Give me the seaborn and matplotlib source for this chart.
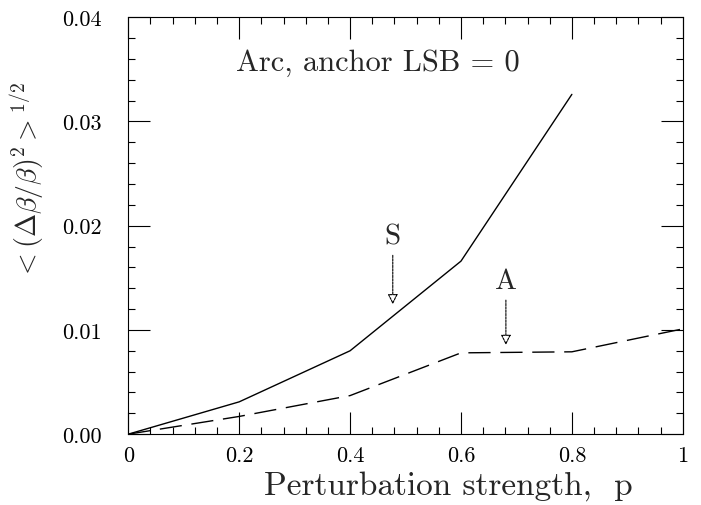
import numpy as np
import pandas as pd
import matplotlib
matplotlib.use('Agg')
import matplotlib.pyplot as plt
import seaborn as sns
from matplotlib.ticker import MultipleLocator

# data
p_s = [0.0, 0.2, 0.4, 0.6, 0.8]
rms_s = [0.0, 0.0031, 0.0080, 0.0166, 0.0326]
p_a = [0.0, 0.2, 0.4, 0.6, 0.8, 1.0]
rms_a = [0.0, 0.0017, 0.0037, 0.0078, 0.0079, 0.0101]

x_ticks = [0, 0.2, 0.4, 0.6, 0.8, 1]
x_labels = ['0', '0.2', '0.4', '0.6', '0.8', '1']
y_ticks = [0.0, 0.01, 0.02, 0.03, 0.04]
y_labels = ['0.00', '0.01', '0.02', '0.03', '0.04']

sns.set_style('ticks')
plt.rcParams['font.family'] = ['cmr10', 'DejaVu Serif']
plt.rcParams['mathtext.fontset'] = 'cm'
plt.rcParams['axes.formatter.use_mathtext'] = True

df_s = pd.DataFrame({'p': p_s, 'rms': rms_s})
df_a = pd.DataFrame({'p': p_a, 'rms': rms_a})

fig = plt.figure(figsize=(7.01, 5.06), dpi=100)
ax = fig.add_axes([0.183, 0.140, 0.791, 0.824])

sns.lineplot(data=df_s, x='p', y='rms', ax=ax, color='black', lw=1.0)
sns.lineplot(data=df_a, x='p', y='rms', ax=ax, color='black', lw=1.0,
             dashes=False)
ax.lines[-1].set_dashes([16, 7])

ax.set_xlim(0, 1)
ax.set_ylim(0, 0.04)
ax.set_xticks(x_ticks)
ax.set_xticklabels(x_labels)
ax.set_yticks(y_ticks)
ax.set_yticklabels(y_labels)
ax.xaxis.set_minor_locator(MultipleLocator(0.04))
ax.yaxis.set_minor_locator(MultipleLocator(0.002))
ax.tick_params(which='both', direction='in', top=True, right=True,
               width=0.8, labelsize=16, colors='black')
ax.tick_params(which='major', length=16)
ax.tick_params(which='minor', length=4.7)
ax.tick_params(axis='x', which='major', pad=8)
ax.tick_params(axis='y', which='major', pad=19)
for s in ax.spines.values():
    s.set_linewidth(0.8)
    s.set_color('black')

ax.set_xlabel('Perturbation strength,  p', fontsize=24)
ax.xaxis.set_label_coords(0.578, -0.085)
ax.set_ylabel(r'$<(\Delta\beta/\beta)^2>^{1/2}$', fontsize=20)
ax.yaxis.set_label_coords(-0.146, 0.61)

ax.text(0.45, 0.0357, 'Arc, anchor LSB = 0', fontsize=22, ha='center',
        va='center')

# labels with open-head arrows
arrow = dict(arrowstyle='-|>', color='black', lw=0.8, ls=(0, (2, 1)),
             fc='white', mutation_scale=15)
ax.annotate('S', xy=(0.477, 0.0122), xytext=(0.477, 0.0190), fontsize=21,
            ha='center', va='center', arrowprops=arrow)
ax.annotate('A', xy=(0.681, 0.0083), xytext=(0.681, 0.0147), fontsize=21,
            ha='center', va='center', arrowprops=arrow)

fig.savefig('out.png', dpi=100)
